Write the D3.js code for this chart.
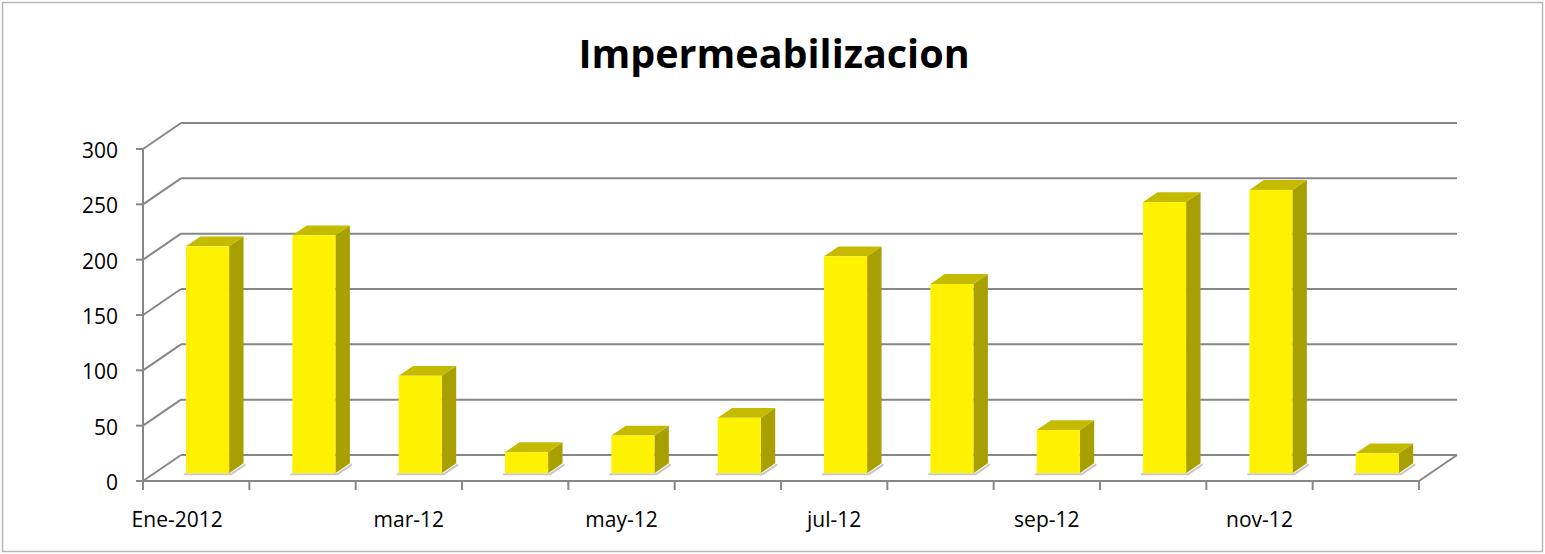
<!DOCTYPE html>
<meta charset="utf-8">
<script src="https://cdn.jsdelivr.net/npm/d3@7"></script>
<style>
  body { margin: 0; background: #fff; }
  text { font-family: "Open Sans", Lato, sans-serif; }
</style>
<div id="chart"></div>
<script>

// data
var months = ["Ene-2012", "feb-12", "mar-12", "abr-12", "may-12", "jun-12",
              "jul-12", "ago-12", "sep-12", "oct-12", "nov-12", "dic-12"];
var values = [205, 215, 88, 19, 34, 50, 196, 171, 39, 245, 256, 18];
var yTicks = [0, 50, 100, 150, 200, 250, 300];
var shownLabels = ["Ene-2012", "mar-12", "may-12", "jul-12", "sep-12", "nov-12"];

var W = 1545, H = 554;
var depthX = 38, depthY = -26;   // oblique offset of the back wall
var barFront = 0.3, barBack = 0.68;

var svg = d3.select("#chart").append("svg")
  .attr("width", W).attr("height", H);

// outer border
svg.append("rect")
  .attr("x", 2.5).attr("y", 2.5).attr("width", W - 5).attr("height", H - 5)
  .attr("fill", "#fff").attr("stroke", "#b8b8b8").attr("stroke-width", 1.5);

svg.append("text")
  .attr("x", 774).attr("y", 68)
  .attr("text-anchor", "middle")
  .attr("font-size", 39.5).attr("font-weight", "bold")
  .text("Impermeabilizacion");

var x = d3.scaleBand().domain(months).range([143, 1419]);
var y = d3.scaleLinear().domain([0, 300]).range([481, 149]);

function px(v, d) { return v + depthX * d; }
function py(v, d) { return v + depthY * d; }

var grid = svg.append("g").attr("stroke", "#878787").attr("stroke-width", 2).attr("fill", "none");

// back wall gridlines + left wall diagonals
yTicks.forEach(function(t) {
  grid.append("line")
    .attr("x1", px(143, 1)).attr("x2", px(1419, 1))
    .attr("y1", py(y(t), 1)).attr("y2", py(y(t), 1));
  grid.append("line")
    .attr("x1", 143).attr("y1", y(t))
    .attr("x2", px(143, 1)).attr("y2", py(y(t), 1));
});

// floor right edge and front axis
grid.append("line")
  .attr("x1", 1419).attr("y1", y(0)).attr("x2", px(1419, 1)).attr("y2", py(y(0), 1));
grid.append("line")
  .attr("x1", 143).attr("y1", y(0)).attr("x2", 1419).attr("y2", y(0));
grid.append("line")
  .attr("x1", 143).attr("y1", y(300)).attr("x2", 143).attr("y2", y(0));

// y ticks
yTicks.forEach(function(t) {
  grid.append("line").attr("x1", 136).attr("x2", 143).attr("y1", y(t)).attr("y2", y(t));
  svg.append("text")
    .attr("x", 118).attr("y", y(t) + 9)
    .attr("text-anchor", "end").attr("font-size", 21)
    .text(t);
});

// x ticks
x.domain().concat(["end"]).forEach(function(m, i) {
  var xx = i < months.length ? x(m) : x.range()[1];
  grid.append("line").attr("x1", xx).attr("x2", xx).attr("y1", y(0)).attr("y2", y(0) + 9);
});

svg.selectAll(".xlab")
  .data(shownLabels)
  .enter().append("text")
  .attr("x", function(d) { return x(d) + x.bandwidth() / 2 + (d === "Ene-2012" ? -19 : 0); })
  .attr("y", 527)
  .attr("text-anchor", "middle").attr("font-size", 21)
  .text(function(d) { return d; });

// bars
var barW = x.bandwidth() * 0.405;
var bars = svg.append("g");
months.forEach(function(m, i) {
  var v = values[i];
  var x0 = px(x(m) + (x.bandwidth() - barW) / 2, barFront);
  var x1 = x0 + barW;
  var yb = py(y(0), barFront);
  var yt = py(y(v), barFront);
  var ddx = depthX * (barBack - barFront), ddy = depthY * (barBack - barFront);

  // shadow on the floor
  bars.append("path")
    .attr("d", "M" + (x0 - 2) + "," + (yb + 1) + "L" + (x1 + 2) + "," + (yb + 1) +
      "L" + (x1 + ddx + 2) + "," + (yb + ddy + 1))
    .attr("fill", "none").attr("stroke", "#c8c8c8").attr("stroke-width", 2);

  bars.append("path")   // side
    .attr("d", "M" + x1 + "," + yb + "L" + (x1 + ddx) + "," + (yb + ddy) +
      "L" + (x1 + ddx) + "," + (yt + ddy) + "L" + x1 + "," + yt + "Z")
    .attr("fill", "#a8a000");
  bars.append("path")   // top
    .attr("d", "M" + x0 + "," + yt + "L" + x1 + "," + yt +
      "L" + (x1 + ddx) + "," + (yt + ddy) + "L" + (x0 + ddx) + "," + (yt + ddy) + "Z")
    .attr("fill", "#c4bb00");
  bars.append("rect")   // front
    .attr("x", x0).attr("y", yt).attr("width", barW).attr("height", yb - yt)
    .attr("fill", "#fff200");
});

</script>
